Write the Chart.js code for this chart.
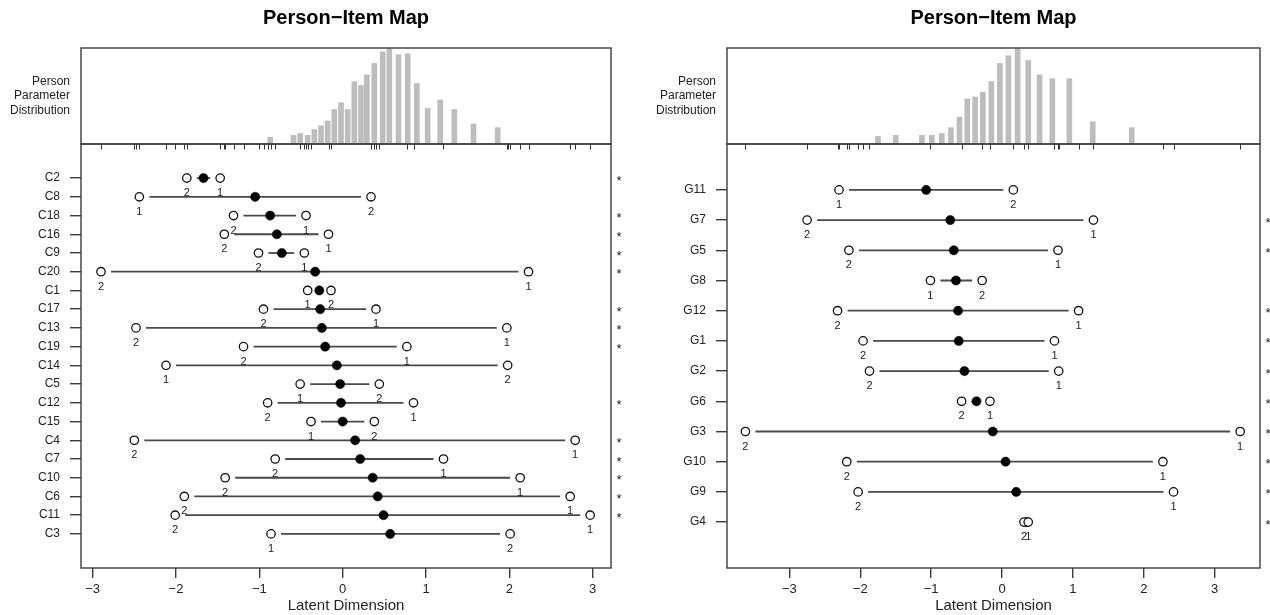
<!DOCTYPE html>
<html>
<head>
<meta charset="utf-8">
<script src="https://cdn.jsdelivr.net/npm/chart.js@4.4.0/dist/chart.umd.min.js"></script>
<style>
  html, body { margin: 0; padding: 0; background: #fff; }
  body { width: 1270px; height: 615px; position: relative; overflow: hidden; }
  canvas { position: absolute; display: block; }
</style>
</head>
<body>
<canvas id="leftHist" width="635" height="160" style="left:0;top:0"></canvas>
<canvas id="leftMap" width="635" height="485" style="left:0;top:130px"></canvas>
<canvas id="rightHist" width="630" height="160" style="left:640px;top:0"></canvas>
<canvas id="rightMap" width="630" height="485" style="left:640px;top:130px"></canvas>
<script>
// ---------------- DATA ----------------
const chartTitle = "Person\u2212Item Map";
const xTitle = "Latent Dimension";
const histLabel = ["Person", "Parameter", "Distribution"];
const xTickValues = [-3, -2, -1, 0, 1, 2, 3];

// Left panel (C items)
const leftItems = ["C2","C8","C18","C16","C9","C20","C1","C17","C13","C19","C14","C5","C12","C15","C4","C7","C10","C6","C11","C3"];
const leftThreshold1 = [-1.47, -2.44, -0.44, -0.17, -0.46, 2.23, -0.42, 0.40, 1.97, 0.77, -2.12, -0.51, 0.85, -0.38, 2.79, 1.21, 2.13, 2.73, 2.97, -0.86];
const leftThreshold2 = [-1.87, 0.34, -1.31, -1.42, -1.01, -2.90, -0.14, -0.95, -2.48, -1.19, 1.98, 0.44, -0.90, 0.38, -2.50, -0.81, -1.41, -1.90, -2.01, 2.01];
const leftLocation = [-1.67, -1.05, -0.87, -0.79, -0.73, -0.33, -0.28, -0.27, -0.25, -0.21, -0.07, -0.03, -0.02, 0.00, 0.15, 0.21, 0.36, 0.42, 0.49, 0.57];
const leftTheta = [-0.87, -0.59, -0.51, -0.42, -0.34, -0.26, -0.18, -0.10, -0.02, 0.06, 0.14, 0.22, 0.29, 0.38, 0.48, 0.56, 0.67, 0.78, 0.89, 1.02, 1.17, 1.34, 1.57, 1.86];
const leftFreq = [7, 9, 11, 9, 15, 19, 24, 36, 43, 36, 65, 61, 72, 84, 96, 100, 93, 94, 63, 37, 46, 36, 21, 17];
const leftXRange = [-3.14, 3.22];

// Right panel (G items)
const rightItems = ["G11","G7","G5","G8","G12","G1","G2","G6","G3","G10","G9","G4"];
const rightThreshold1 = [-2.30, 1.29, 0.79, -1.01, 1.08, 0.74, 0.80, -0.17, 3.36, 2.27, 2.42, 0.37];
const rightThreshold2 = [0.16, -2.75, -2.16, -0.28, -2.32, -1.96, -1.87, -0.57, -3.62, -2.19, -2.03, 0.31];
const rightLocation = [-1.07, -0.73, -0.68, -0.65, -0.62, -0.61, -0.53, -0.36, -0.13, 0.05, 0.20, 0.35];
const rightTheta = [-1.75, -1.50, -1.13, -0.99, -0.85, -0.72, -0.60, -0.49, -0.38, -0.27, -0.15, -0.03, 0.09, 0.22, 0.37, 0.53, 0.71, 0.95, 1.28, 1.83];
const rightFreq = [8, 9, 9, 9, 11, 17, 28, 47, 49, 54, 65, 84, 92, 100, 87, 72, 68, 68, 23, 17];
const rightXRange = [-3.88, 3.64];

// ---------------- DRAWING ----------------
const FONT = "'Liberation Sans', Arial, Helvetica, sans-serif";
const INK = "#222";
const BOX = "#3c3c3c";
Chart.defaults.font.family = FONT;
Chart.defaults.color = INK;
Chart.defaults.animation = false;

const fmt = v => v < 0 ? "\u2212" + Math.abs(v) : String(v);
const noPad = s => { s.paddingTop = 0; s.paddingBottom = 0; s.paddingLeft = 0; s.paddingRight = 0; };

function boxPlugin(id) {
  return {
    id: id,
    afterDraw(chart) {
      const a = chart.chartArea, c = chart.ctx;
      c.save();
      c.strokeStyle = BOX; c.lineWidth = 1.4;
      c.strokeRect(a.left, a.top, a.right - a.left, a.bottom - a.top);
      c.restore();
    }
  };
}

function makeHist(canvasId, theta, freq, thr1, thr2, xr, padLeft, padRight) {
  const rug = thr1.concat(thr2);
  new Chart(document.getElementById(canvasId), {
    type: 'bar',
    data: {
      datasets: [{
        data: theta.map((t, i) => ({ x: t, y: freq[i] })),
        backgroundColor: '#bdbdbd',
        borderWidth: 0,
        barThickness: 5
      }]
    },
    options: {
      responsive: false,
      layout: { padding: { left: padLeft, right: padRight, top: 0, bottom: 16 } },
      plugins: {
        legend: { display: false },
        tooltip: { enabled: false },
        title: {
          display: true, text: chartTitle, color: '#000',
          font: { size: 20, weight: 'bold', family: FONT, lineHeight: 1.2 },
          padding: { top: 6, bottom: 18 }
        }
      },
      scales: {
        x: { type: 'linear', min: xr[0], max: xr[1], display: false, offset: false },
        y: { min: 0, max: Math.max(...freq), display: false }
      }
    },
    plugins: [boxPlugin('histBox'), {
      id: 'rugAndText',
      afterDraw(chart) {
        const a = chart.chartArea, c = chart.ctx, xs = chart.scales.x;
        c.save();
        c.strokeStyle = '#333'; c.lineWidth = 1;
        rug.forEach(v => {
          const px = Math.round(xs.getPixelForValue(v)) + 0.5;
          c.beginPath(); c.moveTo(px, a.bottom); c.lineTo(px, a.bottom + 5.5); c.stroke();
        });
        c.fillStyle = INK;
        c.font = "12px " + FONT;
        c.textAlign = 'right'; c.textBaseline = 'middle';
        const mid = (a.top + a.bottom) / 2;
        histLabel.forEach((t, k) => c.fillText(t, a.left - 11, mid + (k - 1) * 14.5));
        c.restore();
      }
    }]
  });
}

function makeMap(canvasId, items, thr1, thr2, loc, xr, yPad, axisW, padRight) {
  const n = items.length;
  new Chart(document.getElementById(canvasId), {
    type: 'scatter',
    data: {
      datasets: [
        { data: thr1.map((v, i) => ({ x: v, y: i })), pointStyle: 'circle', pointRadius: 4.2,
          backgroundColor: '#fff', borderColor: '#111', borderWidth: 1.3 },
        { data: thr2.map((v, i) => ({ x: v, y: i })), pointStyle: 'circle', pointRadius: 4.2,
          backgroundColor: '#fff', borderColor: '#111', borderWidth: 1.3 },
        { data: loc.map((v, i) => ({ x: v, y: i })), pointStyle: 'circle', pointRadius: 4.6,
          backgroundColor: '#000', borderColor: '#000', borderWidth: 0.5 }
      ]
    },
    options: {
      responsive: false,
      layout: { padding: { left: 0, right: padRight, top: 14, bottom: 0 } },
      plugins: { legend: { display: false }, tooltip: { enabled: false } },
      scales: {
        x: {
          type: 'linear', min: xr[0], max: xr[1],
          afterBuildTicks: s => { s.ticks = xTickValues.map(v => ({ value: v })); },
          afterFit: s => { s.height = 47; noPad(s); },
          ticks: { callback: v => fmt(v), font: { size: 13 }, color: INK, padding: 4, maxRotation: 0, autoSkip: false },
          grid: { drawOnChartArea: false, drawTicks: true, tickLength: 10, color: BOX, lineWidth: 1.4 },
          border: { display: false },
          title: { display: true, text: xTitle, font: { size: 15, lineHeight: 1.2 }, color: INK, padding: { top: 0, bottom: 0 } }
        },
        y: {
          type: 'linear', reverse: true, min: -yPad, max: n - 1 + yPad,
          afterBuildTicks: s => { s.ticks = items.map((_, i) => ({ value: i })); },
          afterFit: s => { s.width = axisW; noPad(s); },
          ticks: { callback: v => items[Math.round(v)], font: { size: 12 }, color: INK, padding: 10, autoSkip: false },
          grid: { drawOnChartArea: false, drawTicks: true, tickLength: 11, color: BOX, lineWidth: 1.4 },
          border: { display: false }
        }
      }
    },
    plugins: [boxPlugin('mapBox'), {
      id: 'segments',
      beforeDatasetsDraw(chart) {
        const c = chart.ctx, xs = chart.scales.x, ys = chart.scales.y;
        c.save();
        c.strokeStyle = '#4a4a4a'; c.lineWidth = 1.8;
        items.forEach((_, i) => {
          const a = xs.getPixelForValue(Math.min(thr1[i], thr2[i])) + 10;
          const b = xs.getPixelForValue(Math.max(thr1[i], thr2[i])) - 10;
          if (b > a) {
            const py = ys.getPixelForValue(i);
            c.beginPath(); c.moveTo(a, py); c.lineTo(b, py); c.stroke();
          }
        });
        c.restore();
      },
      afterDatasetsDraw(chart) {
        const c = chart.ctx, xs = chart.scales.x, ys = chart.scales.y, ar = chart.chartArea;
        c.save();
        c.fillStyle = INK;
        c.font = "11px " + FONT;
        c.textAlign = 'center'; c.textBaseline = 'middle';
        items.forEach((_, i) => {
          const py = ys.getPixelForValue(i);
          c.fillText("1", xs.getPixelForValue(thr1[i]), py + 15);
          c.fillText("2", xs.getPixelForValue(thr2[i]), py + 15);
        });
        c.font = "13px " + FONT;
        items.forEach((_, i) => {
          if (thr2[i] < thr1[i]) {
            c.fillText("*", ar.right + 8, ys.getPixelForValue(i) + 3);
          }
        });
        c.restore();
      }
    }]
  });
}

makeHist('leftHist', leftTheta, leftFreq, leftThreshold1, leftThreshold2, leftXRange, 81, 24);
makeMap('leftMap', leftItems, leftThreshold1, leftThreshold2, leftLocation, leftXRange, 1.82, 81, 24);
makeHist('rightHist', rightTheta, rightFreq, rightThreshold1, rightThreshold2, rightXRange, 87, 10);
makeMap('rightMap', rightItems, rightThreshold1, rightThreshold2, rightLocation, rightXRange, 1.52, 87, 10);
</script>
</body>
</html>
